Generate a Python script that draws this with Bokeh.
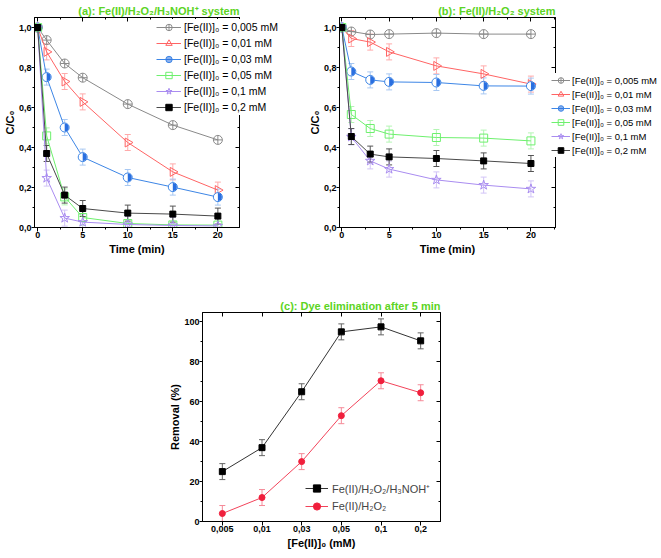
import numpy as np
from bokeh.plotting import figure
from bokeh.models import (ColumnDataSource, Whisker, TeeHead, Legend, LegendItem, FixedTicker,
                          CustomJSTickFormatter, LinearAxis, CategoricalAxis, Range1d, FactorRange, Spacer)
from bokeh.layouts import row, column
from bokeh.embed import file_html
from bokeh.resources import INLINE

# ---------------- data ----------------
time_min = [0, 1, 3, 5, 10, 15, 20]
series_labels = ["[Fe(II)]₀ = 0,005 mM", "[Fe(II)]₀ = 0,01 mM", "[Fe(II)]₀ = 0,03 mM",
                 "[Fe(II)]₀ = 0,05 mM", "[Fe(II)]₀ = 0,1 mM", "[Fe(II)]₀ = 0,2 mM"]

# (a) Fe(II)/H2O2/H3NOH+ system
a_0005 = [1.0, 0.937, 0.820, 0.749, 0.617, 0.512, 0.438]
a_001 = [1.0, 0.878, 0.730, 0.628, 0.425, 0.278, 0.187]
a_003 = [1.0, 0.752, 0.500, 0.352, 0.250, 0.202, 0.152]
a_005 = [1.0, 0.458, 0.153, 0.050, 0.020, 0.013, 0.012]
a_01 = [1.0, 0.247, 0.047, 0.027, 0.015, 0.010, 0.008]
a_02 = [1.0, 0.370, 0.162, 0.095, 0.072, 0.067, 0.057]
a_err = [0.0, 0.04, 0.04, 0.04, 0.04, 0.04, 0.04]

# (b) Fe(II)/H2O2 system
b_0005 = [1.0, 0.980, 0.965, 0.967, 0.972, 0.967, 0.967]
b_001 = [1.0, 0.945, 0.927, 0.878, 0.808, 0.768, 0.717]
b_003 = [1.0, 0.780, 0.738, 0.728, 0.725, 0.708, 0.707]
b_005 = [1.0, 0.565, 0.495, 0.467, 0.450, 0.447, 0.433]
b_01 = [1.0, 0.453, 0.333, 0.292, 0.238, 0.212, 0.193]
b_02 = [1.0, 0.455, 0.367, 0.353, 0.345, 0.333, 0.320]
b_err = [0.0, 0.04, 0.04, 0.04, 0.04, 0.04, 0.04]

# (c) dye elimination after 5 min
conc_labels = ["0,005", "0,01", "0,03", "0,05", "0,1", "0,2"]
c_hydrox = [25, 37, 65, 95, 97.5, 90.5]
c_h2o2 = [4, 12, 30, 53, 70.5, 64.5]
c_err = [4, 4, 4, 4, 4, 4]

FONT = "Liberation Sans"
GREEN_TITLE = "#5cd424"

styles = [
    dict(marker="circle_cross", color="#8a8a8a", fill=None, size=9, err=False, ecolor="#bbbbbb"),
    dict(marker="triangle", color="#ff6464", fill=None, size=9, err=True, ecolor="#ffaaaa", angle=-np.pi / 2),
    dict(marker="halfcircle", color="#3d86e6", fill="#2a6fe0", size=9, err=True, ecolor="#a8c8f2"),
    dict(marker="square", color="#6ef06e", fill=None, size=8, err=True, ecolor="#b4f5b4"),
    dict(marker="star", color="#a98cf0", fill=None, size=10, err=True, ecolor="#d2c4f7"),
    dict(marker="square", color="#000000", fill="#000000", size=6, err=True, ecolor="#555555", line="#4a4a4a"),
]

EMPTY = CustomJSTickFormatter(code="return '';")

# borders shared by the figures of the first row (bokeh aligns them across a row)
TOP_B = 17
BOT_B = 30


def style_axis(ax, label_standoff, tick_out=4):
    ax.major_label_text_font = FONT
    ax.major_label_text_font_style = "bold"
    ax.major_label_text_font_size = "9px"
    ax.major_label_text_color = "#000000"
    ax.axis_label_text_font = FONT
    ax.axis_label_text_font_style = "bold"
    ax.axis_label_text_font_size = "11px"
    ax.axis_label_text_color = "#000000"
    ax.axis_label_text_line_height = 1.0
    ax.major_tick_out = tick_out
    ax.major_tick_in = 0
    ax.minor_tick_out = 2
    ax.minor_tick_in = 0
    ax.axis_line_color = "#000000"
    ax.major_tick_line_color = "#000000"
    ax.minor_tick_line_color = "#000000"
    ax.major_label_standoff = 0
    ax.axis_label_standoff = label_standoff


def mirror_axis(ax):
    ax.formatter = EMPTY
    ax.major_label_text_font_size = "1px"
    ax.major_label_standoff = 0
    ax.major_tick_in = 4
    ax.major_tick_out = 0
    ax.minor_tick_in = 2
    ax.minor_tick_out = 0
    ax.axis_line_color = "#000000"


def base_fig(title, fw, fh, **kw):
    p = figure(frame_width=fw, frame_height=fh, output_backend="svg", toolbar_location=None,
               tools="", **kw)
    p.title.text = title
    p.title.align = "right"
    p.title.text_font = FONT
    p.title.text_font_style = "bold"
    p.title.text_font_size = "11px"
    p.title.text_color = GREEN_TITLE
    p.title.standoff = 2
    p.grid.visible = False
    p.outline_line_color = "#000000"
    p.background_fill_color = "#ffffff"
    p.border_fill_alpha = 0
    return p


def setup_kinetic_axes(p, xlabel, ylabel):
    xt = [0, 5, 10, 15, 20]
    xm = [2.5, 7.5, 12.5, 17.5, 22.5]
    yt = [0, 0.2, 0.4, 0.6, 0.8, 1.0]
    ym = [0.1, 0.3, 0.5, 0.7, 0.9]
    xa = p.xaxis[0]
    ya = p.yaxis[0]
    xa.ticker = FixedTicker(ticks=xt, minor_ticks=xm)
    ya.ticker = FixedTicker(ticks=yt, minor_ticks=ym)
    ya.formatter = CustomJSTickFormatter(code="return tick.toFixed(1).replace('.', ',');")
    style_axis(xa, 2)
    style_axis(ya, 0, 3)
    xa.axis_label = xlabel
    ya.axis_label = ylabel
    top = LinearAxis(ticker=FixedTicker(ticks=xt, minor_ticks=xm))
    right = LinearAxis(ticker=FixedTicker(ticks=yt, minor_ticks=ym))
    mirror_axis(top)
    mirror_axis(right)
    p.add_layout(top, "above")
    p.add_layout(right, "right")


def kinetic_panel(p, data, err):
    for vals, st in zip(data, styles):
        src = ColumnDataSource(dict(x=time_min, y=vals,
                                    lo=[v - e for v, e in zip(vals, err)],
                                    hi=[v + e for v, e in zip(vals, err)]))
        lc = st.get("line", st["color"])
        p.line("x", "y", source=src, line_color=lc, line_width=1)
        if st["err"]:
            w = Whisker(source=src, base="x", upper="hi", lower="lo", line_color=st["ecolor"], line_width=1,
                        upper_head=TeeHead(size=6, line_color=st["ecolor"]),
                        lower_head=TeeHead(size=6, line_color=st["ecolor"]))
            p.add_layout(w)
        if st["marker"] == "halfcircle":
            p.scatter("x", "y", source=src, marker="circle", size=st["size"],
                      line_color=st["color"], fill_color="#ffffff", line_width=1)
            p.wedge("x", "y", source=src, radius=st["size"] / 2 - 0.5, radius_units="screen",
                    start_angle=-np.pi / 2, end_angle=np.pi / 2, fill_color=st["fill"], line_color=None)
        else:
            p.scatter("x", "y", source=src, marker=st["marker"], size=st["size"],
                      angle=st.get("angle", 0.0),
                      line_color=st["color"], line_width=1,
                      fill_color=st["fill"] if st["fill"] else "#ffffff",
                      fill_alpha=1.0 if st["fill"] else 0.0)


def legend_fig(data, width, frame_h, fs, glyph_w, glyph_h, standoff, top, left):
    """A transparent figure holding only the legend, so it may overlap the neighbouring panel.
    Its renderers use the series data but its ranges lie outside that data, so only the legend shows."""
    q = figure(width=width, height=frame_h + TOP_B + BOT_B, output_backend="svg", toolbar_location=None,
               tools="", title=None, x_range=Range1d(-3, -2), y_range=Range1d(-3, -2),
               x_axis_location=None, y_axis_location=None,
               min_border=0, outline_line_color=None, background_fill_alpha=0, border_fill_alpha=0,
               margin=(top - TOP_B, 0, 0, left))
    q.grid.visible = False
    items = []
    for vals, st, lab in zip(data, styles, series_labels):
        lr = q.line(x=time_min, y=vals, line_color=st.get("line", st["color"]), line_width=1)
        if st["marker"] == "halfcircle":
            mr = q.scatter(x=time_min, y=vals, marker="circle", line_color=st["color"], fill_color=st["fill"],
                           fill_alpha=0.55, line_width=1)
        else:
            mr = q.scatter(x=time_min, y=vals, marker=st["marker"], line_color=st["color"], line_width=1,
                           fill_color=st["fill"] if st["fill"] else "#ffffff",
                           fill_alpha=1.0 if st["fill"] else 0.0)
        items.append(LegendItem(label=lab, renderers=[lr, mr]))
    lg = Legend(items=items, location="top_left", background_fill_color="#ffffff", background_fill_alpha=1.0,
                border_line_alpha=0,
                padding=0, margin=0, spacing=0, glyph_width=glyph_w, glyph_height=glyph_h, label_height=glyph_h,
                label_standoff=standoff, label_text_font=FONT, label_text_font_size=fs,
                label_text_color="#000000")
    q.add_layout(lg)
    return q


data_a = [a_0005, a_001, a_003, a_005, a_01, a_02]
data_b = [b_0005, b_001, b_003, b_005, b_01, b_02]

# ---------------- panel (a) ----------------
FH = 210
pa = base_fig("(a): Fe(II)/H₂O₂/H₃NOH⁺ system", 205, FH,
              x_range=Range1d(-0.35, 22.4), y_range=Range1d(0, 1.05),
              min_border_left=33, min_border_right=68, min_border_top=TOP_B, min_border_bottom=BOT_B)
setup_kinetic_axes(pa, "Time (min)", "C/C₀")
kinetic_panel(pa, data_a, a_err)
# pa spans x 0..306 ; legend (a) starts at x=155, top row centred at y=27
leg_a = legend_fig(data_a, 130, 98, "10.5px", 25, 16, 3, 19, -151)

# ---------------- panel (b) ----------------
pb = base_fig("(b): Fe(II)/H₂O₂ system", 216, FH,
              x_range=Range1d(-0.25, 22.6), y_range=Range1d(0, 1.05),
              min_border_left=33, min_border_right=5, min_border_top=TOP_B, min_border_bottom=BOT_B,
              margin=(0, 0, 0, 19))
setup_kinetic_axes(pb, "Time (min)", "C/C₀")
kinetic_panel(pb, data_b, b_err)
# legend (b) from x=551 to the window edge
leg_b = legend_fig(data_b, 110, 86, "9.5px", 19, 14, 2, 73, -9)

# ---------------- panel (c) ----------------
pc = base_fig("(c): Dye elimination after 5 min", 238, 209,
              x_range=FactorRange(*conc_labels), y_range=Range1d(0, 104.7),
              min_border_left=36, min_border_right=5, min_border_top=17, min_border_bottom=30)
pc.yaxis[0].ticker = FixedTicker(ticks=[0, 20, 40, 60, 80, 100], minor_ticks=[10, 30, 50, 70, 90])
style_axis(pc.xaxis[0], 2)
style_axis(pc.yaxis[0], 0, 3)
pc.xaxis[0].axis_label = "[Fe(II)]₀ (mM)"
pc.yaxis[0].axis_label = "Removal (%)"
ctop = CategoricalAxis()
mirror_axis(ctop)
pc.add_layout(ctop, "above")
cright = LinearAxis(ticker=FixedTicker(ticks=[0, 20, 40, 60, 80, 100], minor_ticks=[10, 30, 50, 70, 90]))
mirror_axis(cright)
pc.add_layout(cright, "right")

src_c1 = ColumnDataSource(dict(x=conc_labels, y=c_hydrox,
                               lo=[v - e for v, e in zip(c_hydrox, c_err)], hi=[v + e for v, e in zip(c_hydrox, c_err)]))
src_c2 = ColumnDataSource(dict(x=conc_labels, y=c_h2o2,
                               lo=[v - e for v, e in zip(c_h2o2, c_err)], hi=[v + e for v, e in zip(c_h2o2, c_err)]))
pc.add_layout(Whisker(source=src_c1, base="x", upper="hi", lower="lo", line_color="#666666",
                      upper_head=TeeHead(size=6, line_color="#666666"), lower_head=TeeHead(size=6, line_color="#666666")))
pc.add_layout(Whisker(source=src_c2, base="x", upper="hi", lower="lo", line_color="#f58a98",
                      upper_head=TeeHead(size=6, line_color="#f58a98"), lower_head=TeeHead(size=6, line_color="#f58a98")))
l1 = pc.line("x", "y", source=src_c1, line_color="#333333", line_width=1)
m1 = pc.scatter("x", "y", source=src_c1, marker="square", size=6, color="#000000")
l2 = pc.line("x", "y", source=src_c2, line_color="#f2435a", line_width=1)
m2 = pc.scatter("x", "y", source=src_c2, marker="circle", size=6, color="#f01f3c")
lc = Legend(items=[LegendItem(label="Fe(II)/H₂O₂/H₃NOH⁺", renderers=[l1, m1]),
                   LegendItem(label="Fe(II)/H₂O₂", renderers=[l2, m2])],
            location=(103, 6), background_fill_alpha=0, border_line_alpha=0, padding=0, margin=0, spacing=0,
            glyph_width=23, glyph_height=18, label_height=18, label_standoff=4,
            label_text_font=FONT, label_text_font_size="11px")
pc.add_layout(lc)

layout = column(row(pa, leg_a, pb, leg_b), Spacer(height=38), row(Spacer(width=166, height=10), pc))
open("out.html", "w").write(file_html(layout, INLINE))
